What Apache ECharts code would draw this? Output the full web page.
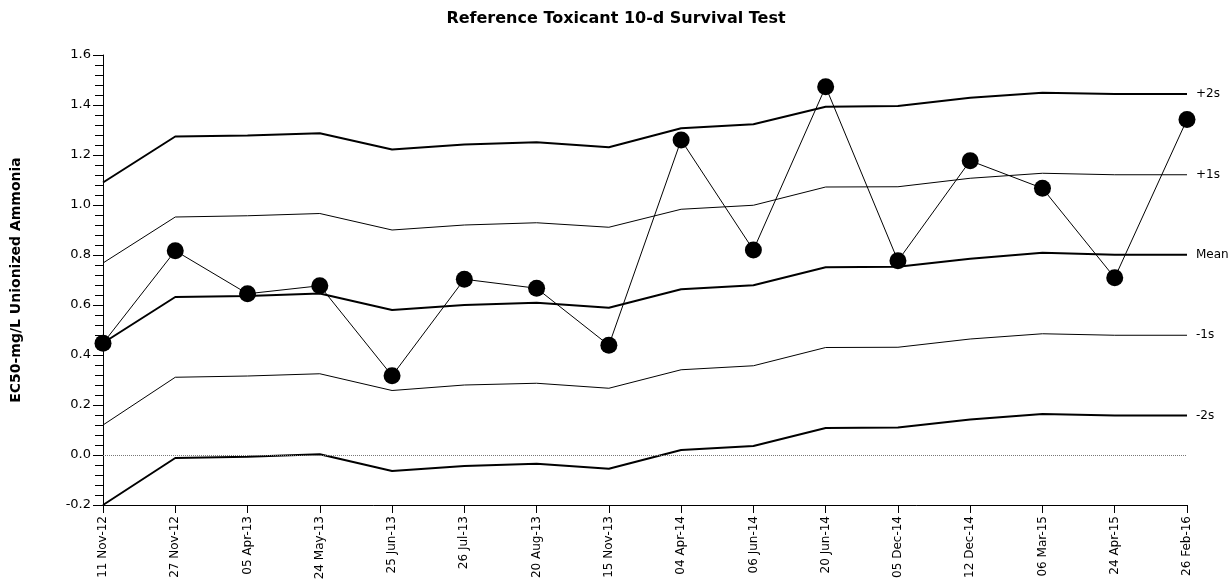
<!DOCTYPE html>
<html>
<head>
<meta charset="utf-8">
<script src="https://cdn.jsdelivr.net/npm/echarts@6/dist/echarts.min.js"></script>
<style>
  html, body { margin: 0; padding: 0; background: #fff; }
  #chart { width: 1232px; height: 584px; }
</style>
</head>
<body>
<div id="chart"></div>
<script>
  // test dates (x categories)
  const dates = ['11 Nov-12', '27 Nov-12', '05 Apr-13', '24 May-13', '25 Jun-13', '26 Jul-13',
    '20 Aug-13', '15 Nov-13', '04 Apr-14', '06 Jun-14', '20 Jun-14', '05 Dec-14',
    '12 Dec-14', '06 Mar-15', '24 Apr-15', '26 Feb-16'];

  // EC50 results
  const ec50 = [0.447, 0.817, 0.645, 0.677, 0.317, 0.703, 0.667, 0.439,
    1.26, 0.82, 1.473, 0.777, 1.177, 1.067, 0.709, 1.342];

  // running control limits
  const plus2s = [1.09, 1.274, 1.278, 1.287, 1.222, 1.242, 1.251, 1.231,
    1.307, 1.323, 1.393, 1.396, 1.429, 1.449, 1.444, 1.444];
  const plus1s = [0.768, 0.952, 0.957, 0.966, 0.9, 0.92, 0.929, 0.911,
    0.983, 0.999, 1.072, 1.073, 1.107, 1.127, 1.121, 1.121];
  const mean = [0.448, 0.632, 0.636, 0.646, 0.58, 0.6, 0.609, 0.589,
    0.663, 0.679, 0.751, 0.753, 0.785, 0.809, 0.801, 0.801];
  const minus1s = [0.12, 0.311, 0.316, 0.325, 0.258, 0.28, 0.287, 0.267,
    0.341, 0.357, 0.43, 0.431, 0.464, 0.485, 0.479, 0.479];
  const minus2s = [-0.2, -0.012, -0.007, 0.003, -0.064, -0.044, -0.035, -0.055,
    0.02, 0.036, 0.108, 0.11, 0.142, 0.164, 0.158, 0.158];

  const yTicks = { min: -0.2, max: 1.6, step: 0.2 };

  const font = 'DejaVu Sans, Verdana, sans-serif';

  function limitLine(name, data, width) {
    return {
      name: name,
      type: 'line',
      data: data,
      symbol: 'none',
      silent: true,
      z: 2,
      lineStyle: { color: '#000', width: width },
      endLabel: {
        show: true,
        formatter: name,
        color: '#000',
        fontFamily: font,
        fontSize: 12,
        distance: 9
      }
    }
  }

  const chart = echarts.init(document.getElementById('chart'), null, { renderer: 'canvas' });

  chart.setOption({
    animation: false,
    backgroundColor: '#fff',
    textStyle: { fontFamily: font },
    title: {
      text: 'Reference Toxicant 10-d Survival Test',
      left: 'center',
      top: 6,
      textStyle: { fontSize: 16, fontWeight: 'bold', color: '#000', fontFamily: font }
    },
    grid: {
      left: 103,
      right: 45,
      top: 55,
      bottom: 79,
      containLabel: false,
      outerBoundsMode: 'none'
    },
    xAxis: {
      type: 'category',
      data: dates,
      boundaryGap: false,
      axisLine: { onZero: false, lineStyle: { color: '#000', width: 1 } },
      axisTick: { show: true, length: 8, alignWithLabel: true, lineStyle: { color: '#000' } },
      axisLabel: {
        rotate: 90,
        interval: 0,
        color: '#000',
        fontSize: 12,
        fontFamily: font,
        margin: 11
      },
      splitLine: { show: false }
    },
    yAxis: {
      type: 'value',
      min: yTicks.min,
      max: yTicks.max,
      interval: yTicks.step,
      name: 'EC50-mg/L Unionized Ammonia',
      nameLocation: 'middle',
      nameGap: 80,
      nameTextStyle: { fontWeight: 'bold', fontSize: 14, color: '#000', fontFamily: font },
      axisLine: { show: true, lineStyle: { color: '#000', width: 1 } },
      axisTick: { show: true, length: 10, inside: false, lineStyle: { color: '#000' } },
      minorTick: { show: true, splitNumber: 5, length: 8, lineStyle: { color: '#000' } },
      axisLabel: {
        color: '#000',
        fontSize: 13,
        fontFamily: font,
        margin: 12,
        formatter: function (v) { return v.toFixed(1) }
      },
      splitLine: { show: false }
    },
    series: [
      limitLine('+2s', plus2s, 2),
      limitLine('+1s', plus1s, 1),
      limitLine('Mean', mean, 2),
      limitLine('-1s', minus1s, 1),
      limitLine('-2s', minus2s, 2),
      {
        name: 'EC50',
        type: 'line',
        data: ec50,
        symbol: 'circle',
        symbolSize: 17,
        z: 5,
        itemStyle: { color: '#000' },
        lineStyle: { color: '#000', width: 1 },
        markLine: {
          silent: true,
          symbol: 'none',
          label: { show: false },
          lineStyle: { color: '#777', width: 1, type: [1, 1] },
          data: [{ yAxis: 0 }]
        }
      }
    ]
  });
</script>
</body>
</html>
